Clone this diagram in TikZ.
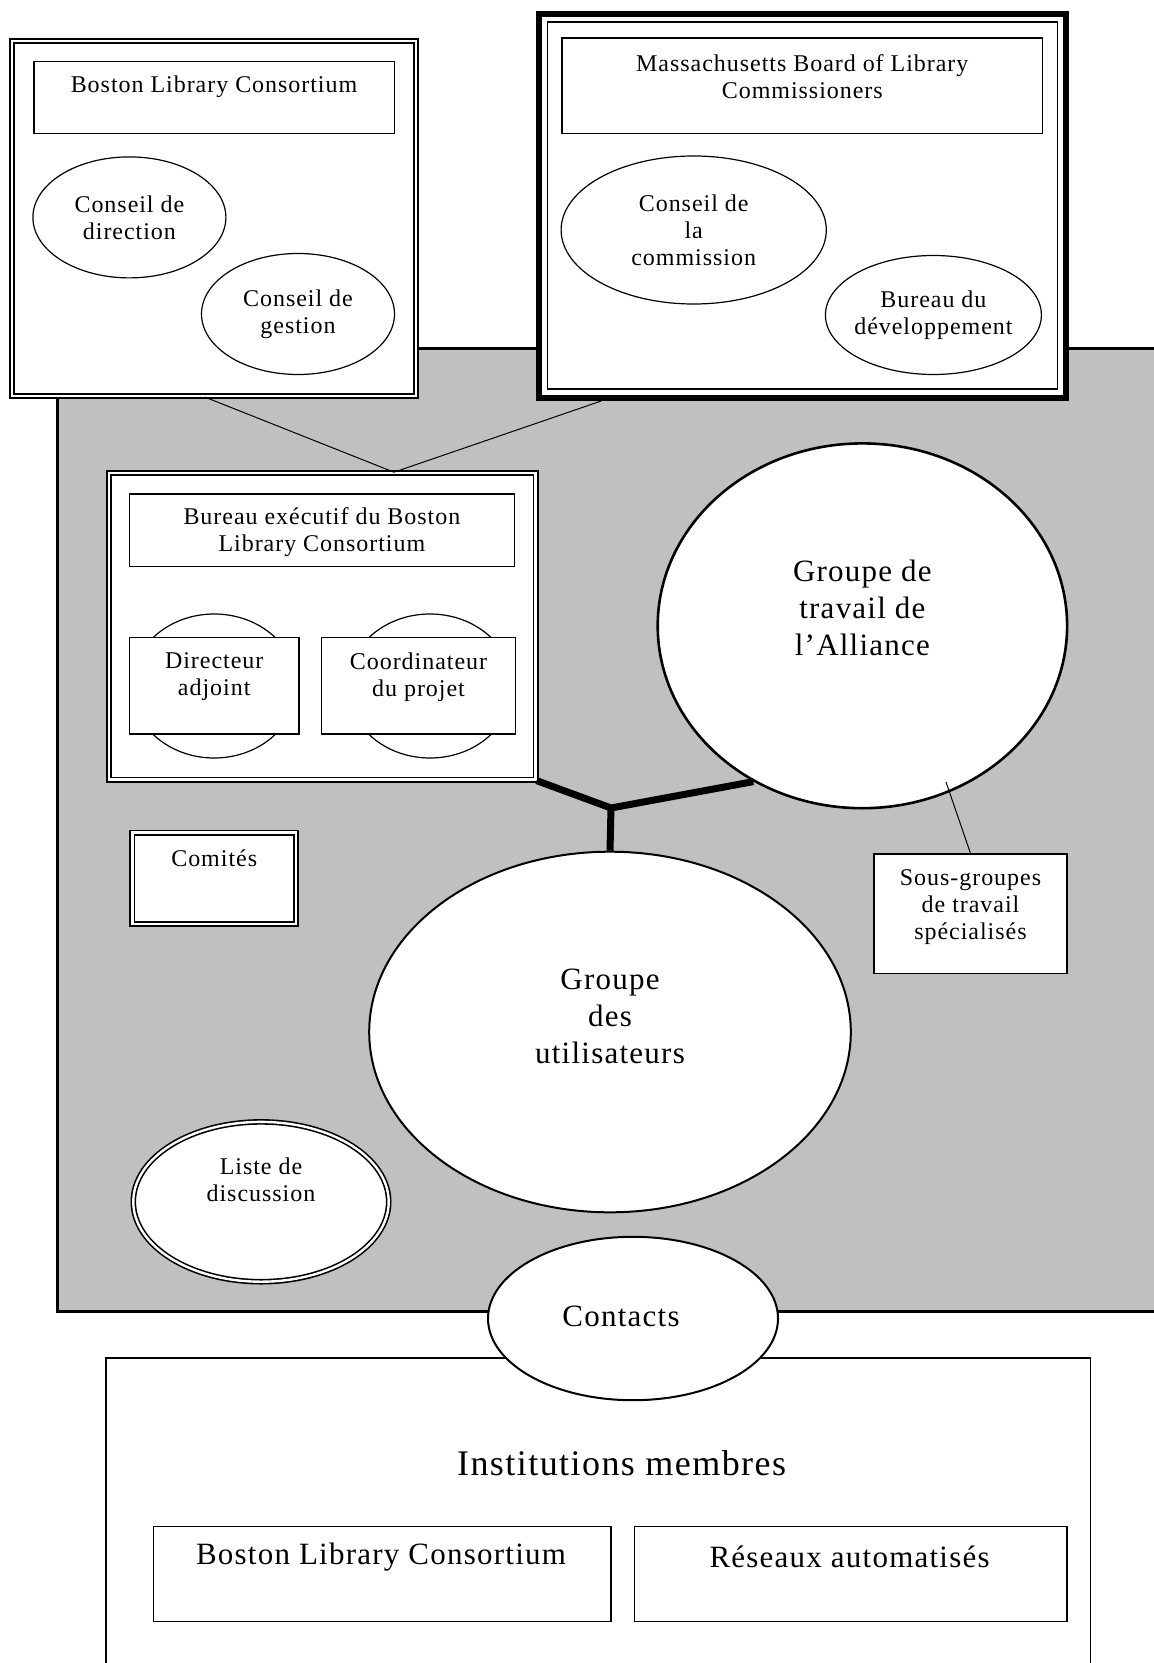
\documentclass[tikz,border=0pt]{standalone}
\usepackage{fontspec}
\setmainfont{Liberation Serif}[LetterSpace=4]
\usetikzlibrary{shapes.geometric,calc}
\definecolor{panelgray}{HTML}{C0C0C0}

\begin{document}
\begin{tikzpicture}[x=0.5pt, y=-0.5pt,
    plainbox/.style={draw, fill=white, line width=0.6pt, inner sep=0pt},
    dblbox/.style={plainbox, double, double distance=1.4pt, line width=0.8pt},
    bubble/.style={draw, fill=white, ellipse, line width=0.6pt, inner sep=0pt},
    smalltext/.style={font=\fontsize{12}{13.4}\selectfont, align=center, inner sep=0pt},
    bigtext/.style={font=\fontsize{15.5}{18.5}\selectfont, align=center, inner sep=0pt},
    link/.style={line width=0.5pt},
    heavy/.style={line width=3.5pt, line join=miter}]
    \useasboundingbox (0,0) rectangle (1153,1663);

    % the grey panel of the alliance
    \filldraw[fill=panelgray, line width=1.5pt] (57,349) rectangle (1200,1311);

    % Boston Library Consortium (top left)
    \node[dblbox, line width=1pt, double distance=1pt, minimum width=202pt, minimum height=177.5pt] (blc) at (214,218.5) {};
    \node[plainbox, minimum width=180.3pt, minimum height=36pt] (blctitle) at (214.3,97.5) {};
    \node[smalltext] (blctitletxt) at (214,87) {Boston Library Consortium};
    \node[bubble, minimum width=96.5pt, minimum height=60.5pt] (direction) at (129.4,217.4) {};
    \node[smalltext] (directiontxt) at (direction) {Conseil de\\direction};
    \node[bubble, minimum width=96.5pt, minimum height=60.5pt] (gestion) at (298,314) {};
    \node[smalltext] (gestiontxt) at (gestion) {Conseil de\\gestion};

    % Massachusetts Board (top right)
    \node[plainbox, line width=3pt, minimum width=263.7pt, minimum height=192.2pt] (mblc) at (802.3,205.8) {};
    \node[draw, line width=0.8pt, inner sep=0pt, minimum width=255pt, minimum height=183.5pt] (mblcin) at (mblc) {};
    \node[plainbox, minimum width=240.4pt, minimum height=47.8pt] (mblctitle) at (802.3,85.8) {};
    \node[smalltext] (mblctitletxt) at (802.3,77) {Massachusetts Board of Library\\Commissioners};
    \node[bubble, minimum width=132.6pt, minimum height=74pt] (commission) at (693.7,230) {};
    \node[smalltext] (commissiontxt) at (commission) {Conseil de\\la\\commission};
    \node[bubble, minimum width=108pt, minimum height=59.5pt] (devel) at (933.4,315) {};
    \node[smalltext] (develtxt) at (devel) {Bureau du\\développement};

    % executive office
    \node[dblbox, minimum width=213.4pt, minimum height=153.4pt] (bex) at (322.4,626.4) {};
    \node[plainbox, minimum width=192.5pt, minimum height=36.2pt] (bextitle) at (321.9,530.2) {};
    \node[smalltext] (bextitletxt) at (321.9,532) {Bureau exécutif du Boston\\Library Consortium};
    \node[bubble, minimum width=82.5pt, minimum height=72pt] (deputyoval) at (214.2,686) {};
    \node[plainbox, minimum width=84.8pt, minimum height=48.25pt] (deputy) at (214.2,685.8) {};
    \node[smalltext] (deputytxt) at (214.2,677) {Directeur\\adjoint};
    \node[bubble, minimum width=82.5pt, minimum height=72pt] (coordoval) at (430,686) {};
    \node[plainbox, minimum width=97pt, minimum height=48.25pt] (coord) at (418.5,685.8) {};
    \node[smalltext] (coordtxt) at (418.5,677) {Coordinateur\\du projet};

    % committees and mailing list
    \node[dblbox, minimum width=81.8pt, minimum height=45.75pt] (comites) at (214.2,878.3) {};
    \node[smalltext] (comitestxt) at (214.2,858) {Comités};
    \node[bubble, double, double distance=1.2pt, line width=0.8pt, minimum width=127.7pt, minimum height=79.9pt] (discuss) at (261,1201.8) {};
    \node[smalltext] (discusstxt) at (261,1180) {Liste de\\discussion};

    % the two groups
    \node[bubble, line width=1.3pt, minimum width=204.7pt, minimum height=182.4pt] (alliance) at (862.4,625.8) {};
    \node[bigtext] (alliancetxt) at (862.4,607.8) {Groupe de\\travail de\\l’Alliance};
    \node[bubble, line width=1pt, minimum width=240.8pt, minimum height=180.3pt] (users) at (610,1032) {};
    \node[bigtext] (userstxt) at (610,1016) {Groupe\\des\\utilisateurs};
    \node[plainbox, minimum width=96.5pt, minimum height=59.9pt] (sub) at (970.5,913.9) {};
    \node[smalltext] (subtxt) at (970.5,907) {Sous-groupes\\de travail\\spécialisés};

    % member institutions
    \node[plainbox, line width=0.8pt, minimum width=492.2pt, minimum height=171.2pt] (members) at (598.2,1528.9) {};
    \node[bigtext, font=\fontsize{18}{21}\selectfont] (memberstxt) at (621.6,1462.7) {Institutions membres};
    \node[plainbox, minimum width=228.6pt, minimum height=47.7pt] (blcmem) at (382.4,1574.1) {};
    \node[bigtext] (blcmemtxt) at (381,1557) {Boston Library Consortium};
    \node[plainbox, minimum width=216.4pt, minimum height=47.7pt] (netmem) at (850.6,1574.1) {};
    \node[bigtext] (netmemtxt) at (849.6,1557) {Réseaux automatisés};
    \node[bubble, line width=1pt, minimum width=145pt, minimum height=81.7pt] (contacts) at (633,1318.5) {};
    \node[bigtext] (contactstxt) at (621,1316) {Contacts};

    % the links
    \draw[link] ($(blc.south west)!0.477!(blc.south east)$) -- ($(bex.north west)!0.667!(bex.north east)$)
        -- ($(mblc.south west)!0.123!(mblc.south east)$);
    \coordinate (hub) at (611,808);
    \draw[heavy] (bex.south east) -- (hub) -- (alliance.-125);
    \draw[heavy] (hub) -- (users.north);
    \coordinate (subtip) at (946,782);
    \draw[link] (sub.north) -- (subtip);
\end{tikzpicture}
\end{document}
